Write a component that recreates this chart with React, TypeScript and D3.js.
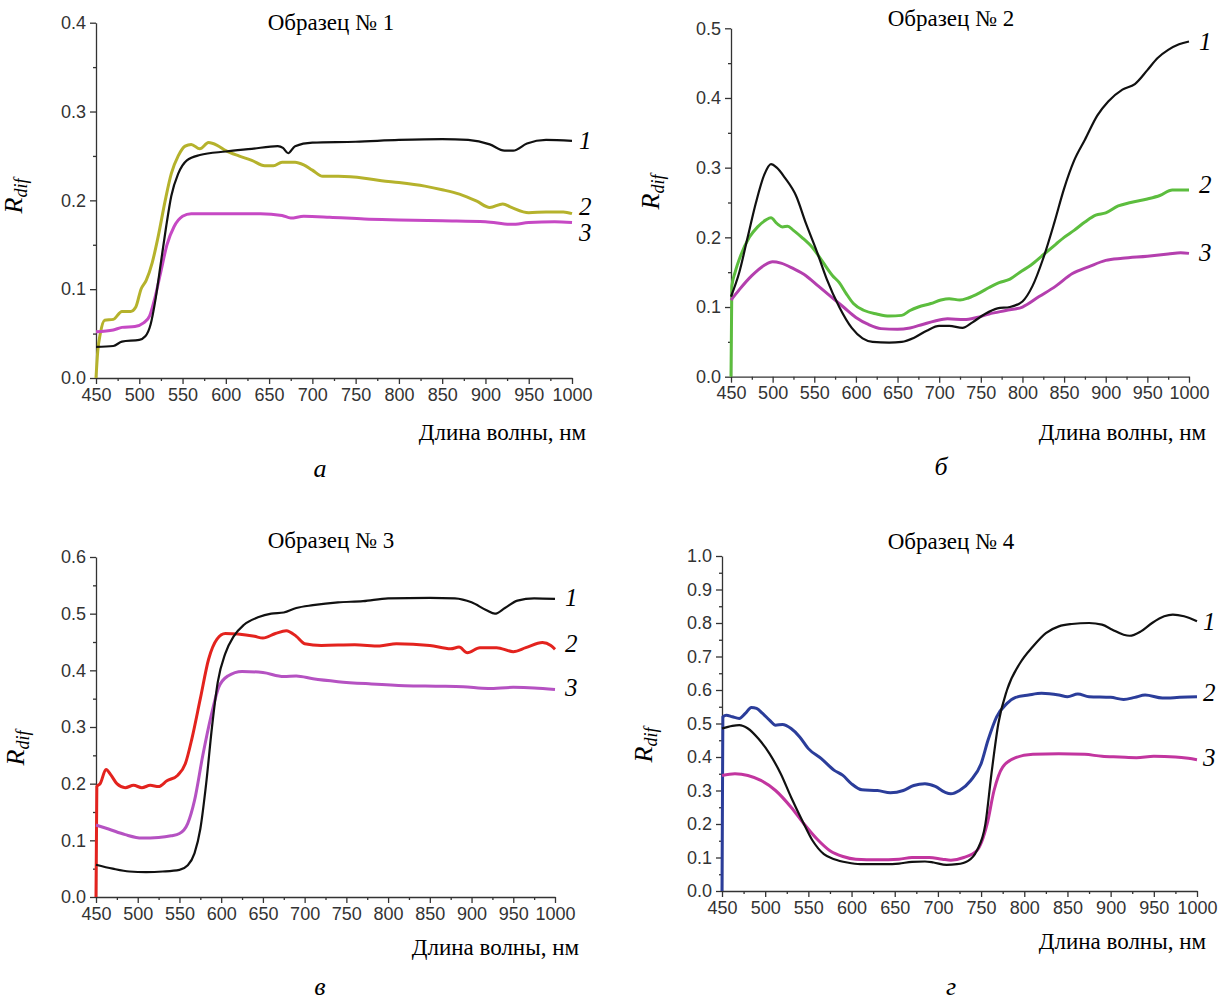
import React, { useEffect, useRef } from 'react';
import * as d3 from 'd3';

// Образец № 1
const a1 = [[450, 0.035], [470, 0.036], [480, 0.041], [500, 0.043], [507, 0.047], [513, 0.06], [519, 0.09], [525, 0.13], [531, 0.17], [537, 0.205], [545, 0.23], [555, 0.245], [570, 0.251], [600, 0.255], [630, 0.258], [660, 0.261], [666, 0.259], [672, 0.253], [680, 0.261], [700, 0.265], [750, 0.266], [800, 0.268], [850, 0.269], [880, 0.268], [905, 0.263], [922, 0.256], [932, 0.256], [948, 0.264], [970, 0.268], [1000, 0.267]];
const a2 = [[450, 0.0], [452, 0.03], [455, 0.05], [460, 0.065], [470, 0.066], [480, 0.075], [490, 0.075], [496, 0.08], [502, 0.1], [508, 0.11], [515, 0.13], [522, 0.16], [530, 0.2], [537, 0.23], [545, 0.25], [553, 0.261], [560, 0.263], [570, 0.258], [580, 0.265], [590, 0.262], [600, 0.256], [615, 0.25], [630, 0.245], [645, 0.239], [655, 0.239], [665, 0.243], [680, 0.243], [690, 0.24], [700, 0.234], [712, 0.227], [730, 0.227], [760, 0.225], [780, 0.222], [800, 0.22], [830, 0.216], [850, 0.212], [870, 0.207], [890, 0.199], [905, 0.192], [920, 0.196], [930, 0.192], [950, 0.186], [970, 0.187], [990, 0.187], [1000, 0.185]];
const a3 = [[450, 0.052], [470, 0.054], [480, 0.057], [495, 0.058], [505, 0.062], [512, 0.07], [518, 0.09], [525, 0.12], [532, 0.15], [540, 0.17], [550, 0.182], [560, 0.185], [600, 0.185], [640, 0.185], [665, 0.183], [675, 0.18], [690, 0.182], [720, 0.181], [760, 0.179], [800, 0.178], [850, 0.177], [900, 0.176], [930, 0.173], [950, 0.175], [980, 0.176], [1000, 0.175]];

// Образец № 2
const b1 = [[450, 0.115], [460, 0.15], [470, 0.2], [480, 0.25], [490, 0.29], [498, 0.305], [505, 0.3], [515, 0.285], [528, 0.26], [540, 0.22], [553, 0.18], [565, 0.14], [580, 0.1], [595, 0.07], [608, 0.055], [620, 0.05], [640, 0.049], [655, 0.05], [670, 0.056], [685, 0.066], [700, 0.073], [712, 0.073], [728, 0.07], [740, 0.078], [755, 0.09], [770, 0.098], [785, 0.1], [800, 0.108], [812, 0.13], [825, 0.17], [838, 0.22], [850, 0.27], [862, 0.31], [875, 0.34], [890, 0.375], [903, 0.395], [920, 0.412], [935, 0.42], [950, 0.44], [962, 0.457], [975, 0.469], [988, 0.477], [1000, 0.481]];
const b2 = [[450, 0.0], [451, 0.13], [455, 0.15], [462, 0.175], [472, 0.2], [482, 0.215], [492, 0.225], [498, 0.228], [505, 0.22], [512, 0.215], [518, 0.216], [525, 0.21], [535, 0.2], [548, 0.185], [560, 0.165], [572, 0.145], [580, 0.135], [588, 0.12], [597, 0.105], [610, 0.095], [625, 0.09], [640, 0.087], [655, 0.088], [665, 0.095], [675, 0.1], [690, 0.105], [702, 0.11], [712, 0.112], [725, 0.11], [735, 0.113], [748, 0.12], [760, 0.128], [772, 0.135], [785, 0.14], [797, 0.15], [810, 0.16], [825, 0.175], [840, 0.19], [850, 0.2], [862, 0.21], [875, 0.222], [888, 0.232], [900, 0.235], [915, 0.245], [930, 0.25], [950, 0.255], [965, 0.26], [980, 0.268], [1000, 0.268]];
const b3 = [[450, 0.11], [460, 0.125], [475, 0.145], [490, 0.16], [500, 0.165], [510, 0.163], [525, 0.155], [540, 0.145], [555, 0.13], [570, 0.115], [585, 0.1], [600, 0.085], [615, 0.075], [630, 0.069], [650, 0.068], [665, 0.07], [680, 0.075], [695, 0.08], [710, 0.083], [730, 0.082], [745, 0.085], [760, 0.09], [780, 0.095], [800, 0.1], [820, 0.115], [840, 0.13], [860, 0.148], [880, 0.158], [900, 0.167], [920, 0.17], [950, 0.173], [975, 0.176], [990, 0.178], [1000, 0.177]];

// Образец № 3
const c1 = [[450, 0.057], [470, 0.05], [490, 0.045], [510, 0.044], [530, 0.045], [550, 0.048], [560, 0.056], [568, 0.077], [575, 0.12], [582, 0.2], [589, 0.3], [596, 0.38], [605, 0.43], [615, 0.46], [627, 0.48], [645, 0.494], [660, 0.5], [675, 0.502], [690, 0.51], [710, 0.515], [740, 0.52], [770, 0.522], [800, 0.527], [850, 0.528], [880, 0.527], [900, 0.52], [918, 0.506], [928, 0.5], [940, 0.51], [955, 0.523], [975, 0.527], [1000, 0.526]];
const c2 = [[450, 0.0], [451, 0.195], [455, 0.2], [462, 0.225], [468, 0.215], [475, 0.2], [485, 0.193], [495, 0.197], [505, 0.193], [515, 0.197], [525, 0.195], [535, 0.205], [548, 0.215], [557, 0.235], [565, 0.28], [575, 0.35], [585, 0.42], [595, 0.455], [605, 0.465], [620, 0.464], [640, 0.46], [650, 0.457], [665, 0.465], [678, 0.47], [690, 0.46], [700, 0.447], [720, 0.444], [760, 0.445], [790, 0.443], [810, 0.447], [850, 0.444], [875, 0.438], [885, 0.441], [895, 0.431], [910, 0.44], [930, 0.44], [950, 0.433], [965, 0.44], [985, 0.449], [995, 0.444], [1000, 0.437]];
const c3 = [[450, 0.127], [465, 0.12], [485, 0.11], [505, 0.104], [525, 0.105], [540, 0.108], [550, 0.112], [560, 0.13], [568, 0.17], [578, 0.25], [588, 0.32], [597, 0.37], [608, 0.39], [625, 0.398], [650, 0.396], [675, 0.389], [690, 0.39], [710, 0.385], [740, 0.38], [780, 0.376], [820, 0.373], [860, 0.372], [890, 0.371], [920, 0.368], [950, 0.37], [975, 0.369], [1000, 0.366]];

// Образец № 4
const d1 = [[450, 0.485], [462, 0.493], [470, 0.495], [480, 0.485], [492, 0.455], [505, 0.41], [518, 0.35], [530, 0.28], [543, 0.21], [555, 0.15], [568, 0.11], [580, 0.095], [595, 0.085], [610, 0.08], [640, 0.08], [655, 0.082], [670, 0.087], [685, 0.088], [695, 0.085], [710, 0.078], [722, 0.08], [735, 0.09], [745, 0.12], [755, 0.2], [762, 0.35], [770, 0.5], [780, 0.6], [795, 0.68], [810, 0.73], [825, 0.77], [840, 0.79], [855, 0.797], [875, 0.8], [890, 0.795], [902, 0.78], [915, 0.765], [922, 0.762], [935, 0.775], [948, 0.8], [962, 0.82], [972, 0.825], [985, 0.82], [1000, 0.805]];
const d2 = [[450, 0.0], [451, 0.52], [455, 0.525], [462, 0.52], [470, 0.515], [477, 0.53], [484, 0.548], [490, 0.545], [497, 0.53], [505, 0.51], [512, 0.495], [520, 0.497], [530, 0.485], [540, 0.46], [550, 0.425], [565, 0.395], [580, 0.36], [590, 0.345], [600, 0.32], [612, 0.302], [630, 0.3], [645, 0.293], [660, 0.3], [672, 0.315], [685, 0.32], [697, 0.312], [708, 0.295], [715, 0.29], [725, 0.3], [738, 0.33], [750, 0.38], [758, 0.45], [768, 0.52], [780, 0.56], [790, 0.578], [805, 0.585], [820, 0.59], [840, 0.585], [850, 0.58], [862, 0.588], [875, 0.58], [900, 0.578], [915, 0.572], [928, 0.578], [940, 0.585], [960, 0.576], [980, 0.578], [1000, 0.58]];
const d3c = [[450, 0.345], [465, 0.35], [480, 0.345], [495, 0.33], [512, 0.3], [530, 0.25], [545, 0.2], [560, 0.155], [575, 0.12], [590, 0.103], [605, 0.095], [630, 0.093], [655, 0.095], [670, 0.1], [690, 0.1], [705, 0.095], [715, 0.092], [730, 0.1], [745, 0.12], [757, 0.2], [765, 0.3], [775, 0.37], [790, 0.398], [810, 0.408], [840, 0.41], [870, 0.408], [890, 0.402], [910, 0.4], [930, 0.398], [950, 0.402], [975, 0.4], [990, 0.396], [1000, 0.392]];

const titles = ['Образец № 1', 'Образец № 2', 'Образец № 3', 'Образец № 4'];
const letters = ['а', 'б', 'в', 'г'];
const curveNames = ['1', '2', '3'];
const yMaxes = [0.4, 0.5, 0.6, 1.0];
const labelValues = [[0.267, 0.192, 0.163], [0.48, 0.275, 0.177], [0.528, 0.446, 0.369], [0.803, 0.591, 0.397]];
const xTicks = d3.range(450, 1001, 50);

const panels = [
  { series: [a1, a2, a3], colors: ['#111', '#b5b22c', '#c649c4'], x0: 96, x1: 572, yTop: 22.7, yBot: 378, titleX: 331, titleY: 30, rX: 22, rY: 196, labX: 579, xlabX: 586, xlabY: 440, letX: 320, letY: 477 },
  { series: [b1, b2, b3], colors: ['#111', '#5cbd3e', '#b43fae'], x0: 731, x1: 1189, yTop: 28.3, yBot: 376.7, titleX: 951, titleY: 26, rX: 659, rY: 192, labX: 1199, xlabX: 1206, xlabY: 440, letX: 941, letY: 475 },
  { series: [c1, c2, c3], colors: ['#111', '#e3231e', '#b552c2'], x0: 96, x1: 555, yTop: 557, yBot: 897, titleX: 331, titleY: 548, rX: 24, rY: 748, labX: 565, xlabX: 579, xlabY: 955, letX: 320, letY: 995 },
  { series: [d1, d2, d3c], colors: ['#111', '#2b3d9a', '#c2359f'], x0: 722, x1: 1197, yTop: 556, yBot: 891, titleX: 951, titleY: 549, rX: 652, rY: 745, labX: 1203, xlabX: 1206, xlabY: 949, letX: 951, letY: 995 },
];

const App = () => {
  const ref = useRef(null);

  useEffect(() => {
    const svg = d3.select(ref.current);
    svg.selectAll('*').remove();

    panels.forEach((p, pi) => {
      const x = d3.scaleLinear().domain([450, 1000]).range([p.x0, p.x1]);
      const y = d3.scaleLinear().domain([0, yMaxes[pi]]).range([p.yBot, p.yTop]);
      const g = svg.append('g');

      // minor ticks
      const minorX = d3.range(475, 1000, 50);
      const minorY = d3.range(0.05, yMaxes[pi], 0.1);
      g.append('g')
        .attr('transform', `translate(0,${p.yBot})`)
        .call(d3.axisBottom(x).tickValues(minorX).tickSize(3).tickFormat(() => ''))
        .call(s => s.select('.domain').remove());
      g.append('g')
        .attr('transform', `translate(${p.x0},0)`)
        .call(d3.axisLeft(y).tickValues(minorY).tickSize(3).tickFormat(() => ''))
        .call(s => s.select('.domain').remove());

      const xa = g.append('g')
        .attr('transform', `translate(0,${p.yBot})`)
        .call(d3.axisBottom(x).tickValues(xTicks).tickSize(6).tickSizeOuter(0).tickPadding(4).tickFormat(d3.format('d')));
      const ya = g.append('g')
        .attr('transform', `translate(${p.x0},0)`)
        .call(d3.axisLeft(y).ticks(Math.round(yMaxes[pi] * 10)).tickSize(6).tickSizeOuter(0).tickPadding(4).tickFormat(d3.format('.1f')));

      [xa, ya].forEach(a => {
        a.selectAll('text').style('font-family', '"Liberation Sans", Arial, sans-serif').style('font-size', '18px').attr('fill', '#333');
      });
      g.selectAll('path,line').attr('stroke', '#333').attr('stroke-width', 1.3);

      const line = d3.line()
        .x(d => x(d[0]))
        .y(d => y(d[1]))
        .curve(d3.curveMonotoneX);

      [1, 2, 0].forEach(si => {
        g.append('path')
          .datum(p.series[si])
          .attr('fill', 'none')
          .attr('stroke', p.colors[si])
          .attr('stroke-width', si === 0 ? 2.2 : 3)
          .attr('stroke-linejoin', 'round')
          .attr('d', line);
      });

      const serif = '"Liberation Serif", "Times New Roman", serif';

      g.append('text')
        .attr('x', p.titleX).attr('y', p.titleY)
        .attr('text-anchor', 'middle')
        .style('font-family', serif).style('font-size', '23px')
        .text(titles[pi]);

      curveNames.forEach((n, i) => {
        g.append('text')
          .attr('x', p.labX).attr('y', y(labelValues[pi][i]) + 8)
          .style('font-family', serif).style('font-size', '25px').style('font-style', 'italic')
          .text(n);
      });

      const rl = g.append('text')
        .attr('transform', `translate(${p.rX},${p.rY}) rotate(-90)`)
        .attr('text-anchor', 'middle')
        .style('font-family', serif).style('font-style', 'italic');
      rl.append('tspan').style('font-size', '26px').text('R');
      rl.append('tspan').style('font-size', '18px').attr('dy', 5).text('dif');

      g.append('text')
        .attr('x', p.xlabX).attr('y', p.xlabY)
        .attr('text-anchor', 'end')
        .style('font-family', serif).style('font-size', '23px')
        .text('Длина волны, нм');

      g.append('text')
        .attr('x', p.letX).attr('y', p.letY)
        .attr('text-anchor', 'middle')
        .style('font-family', serif).style('font-size', '26px').style('font-style', 'italic')
        .text(letters[pi]);
    });
  }, []);

  return (
    <div style={{ position: 'absolute', left: 0, top: 0, background: '#fff' }}>
      <svg ref={ref} width={1221} height={1003} style={{ display: 'block' }} />
    </div>
  );
};

export default App;
